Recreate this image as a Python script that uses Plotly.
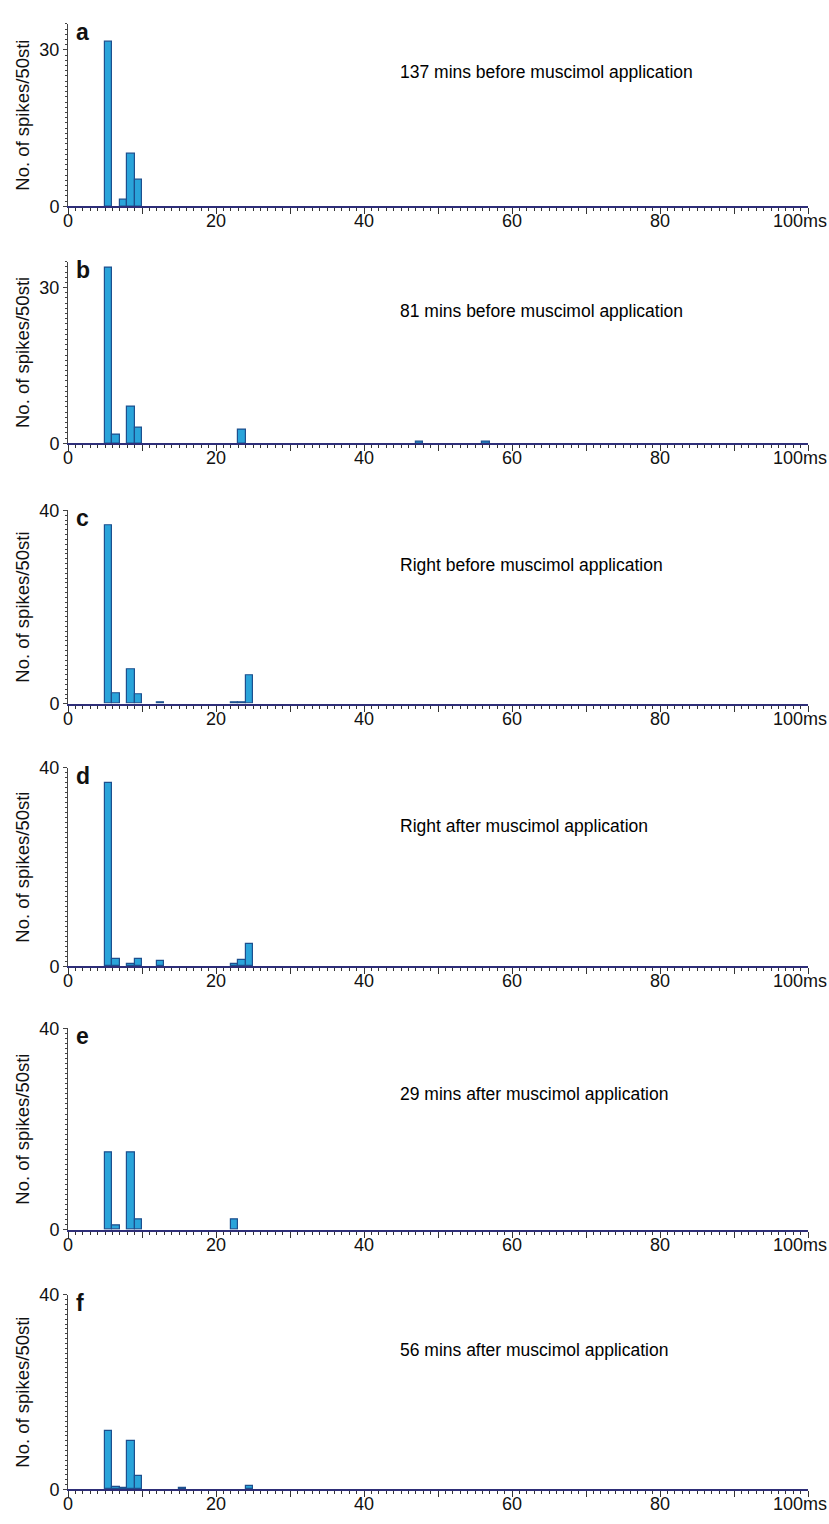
import plotly.graph_objects as go

# Peri-stimulus histograms, 1 ms bins (left edge of each bin in ms)
a_bins = [5, 7, 8, 9]
a_counts = [31.6, 1.2, 10, 5]

b_bins = [5, 6, 8, 9, 23, 47, 56]
b_counts = [33.8, 1.6, 7.1, 3.0, 2.6, 0.4, 0.4]

c_bins = [5, 6, 8, 9, 12, 22, 23, 24]
c_counts = [36.9, 2.2, 7.2, 1.9, 0.3, 0.3, 0.3, 5.9]

d_bins = [5, 6, 8, 9, 12, 22, 23, 24]
d_counts = [37.0, 1.4, 0.5, 1.4, 1.1, 0.4, 1.2, 4.6]

e_bins = [5, 6, 8, 9, 22]
e_counts = [15.4, 0.9, 15.4, 2.0, 2.0]

f_bins = [5, 6, 7, 8, 9, 15, 24]
f_counts = [12.0, 0.5, 0.3, 10.0, 2.7, 0.3, 0.8]

panel_letters = ["a", "b", "c", "d", "e", "f"]
panel_titles = [
    "137 mins before muscimol application",
    "81 mins before muscimol application",
    "Right before muscimol application",
    "Right after muscimol application",
    "29 mins after muscimol application",
    "56 mins after muscimol application",
]
y_max = [35, 35, 40, 40, 40, 40]
y_label_top = [30, 30, 40, 40, 40, 40]
x_label_vals = [0, 20, 40, 60, 80]
x_label_text = ["0", "20", "40", "60", "80"]

series = [
    (a_bins, a_counts), (b_bins, b_counts), (c_bins, c_counts),
    (d_bins, d_counts), (e_bins, e_counts), (f_bins, f_counts),
]

W, H = 829, 1524
# pixel layout of each panel: (top of y axis, baseline)
panel_px = [(14, 199), (255, 439), (507, 703), (768, 969), (1032, 1236), (1302, 1499)]
title_px = [63, 305, 562, 827, 1098, 1358]
x_left, x_right = 68, 808

BAR_FILL = "#2aa4da"
BAR_EDGE = "#1d4f8e"
AXIS_NAVY = "#2e2e78"
FONT = "Liberation Sans, Arial, sans-serif"

fig = go.Figure()
layout = dict(
    width=W, height=H,
    margin=dict(l=0, r=0, t=0, b=0),
    paper_bgcolor="white", plot_bgcolor="white",
    showlegend=False,
    font=dict(family=FONT, color="#111"),
    bargap=0,
)
annotations = []

for i, (bins, counts) in enumerate(series):
    n = "" if i == 0 else str(i + 1)
    top, base = panel_px[i]
    fig.add_trace(go.Bar(
        x=[b + 0.5 for b in bins], y=counts, width=1,
        marker=dict(color=BAR_FILL, line=dict(color=BAR_EDGE, width=1.2)),
        xaxis="x" + n, yaxis="y" + n, hoverinfo="skip",
    ))
    ytop = y_label_top[i]
    yvals = list(range(0, ytop + 1, 10))
    layout["xaxis" + n] = dict(
        domain=[x_left / W, x_right / W],
        range=[0, 100], anchor="y" + n,
        showline=True, linecolor=AXIS_NAVY, linewidth=2,
        showgrid=False, zeroline=False, showticklabels=False,
        tickmode="array", tickvals=list(range(0, 101, 10)),
        ticks="outside", ticklen=6, tickwidth=1.3, tickcolor="#333",
        minor=dict(tickmode="array", tickvals=list(range(0, 101)), ticks="outside",
                   ticklen=3, tickwidth=1, tickcolor="#333"),
    )
    layout["yaxis" + n] = dict(
        domain=[1 - base / H, 1 - top / H],
        range=[0, y_max[i]], anchor="x" + n,
        showline=True, linecolor="#444", linewidth=1,
        showgrid=False, zeroline=False,
        tickmode="array", tickvals=yvals,
        ticktext=["0"] + [""] * (len(yvals) - 2) + [str(ytop)],
        ticks="outside", ticklen=4, tickwidth=1, tickcolor="#444",
        tickfont=dict(size=18, color="#111"),
        minor=dict(tickmode="array", tickvals=list(range(0, y_max[i] + 1)),
                   ticks="outside", ticklen=2, tickwidth=1, tickcolor="#444"),
        title=dict(text="No. of spikes/50sti", font=dict(size=18.5, color="#111"),
                   standoff=4),
    )
    # x tick labels, placed on the data scale just under the axis
    for v, t in zip(x_label_vals, x_label_text):
        annotations.append(dict(
            x=v, y=1 - (base + 15) / H, xref="x" + n, yref="paper",
            xanchor="center", yanchor="middle", text=t, showarrow=False,
            font=dict(size=18, color="#111"),
        ))
    annotations.append(dict(
        x=1, y=1 - (base + 15) / H, xref="paper", yref="paper",
        xanchor="right", yanchor="middle", text="100ms", showarrow=False,
        font=dict(size=18, color="#111"),
    ))
    # panel letter
    annotations.append(dict(
        x=74 / W, y=1 - (top + 8) / H, xref="paper", yref="paper",
        xanchor="left", yanchor="middle", text="<b>%s</b>" % panel_letters[i],
        showarrow=False, font=dict(size=23, color="#111"),
    ))
    # condition label
    annotations.append(dict(
        x=398 / W, y=1 - title_px[i] / H, xref="paper", yref="paper",
        xanchor="left", yanchor="middle", text=panel_titles[i],
        showarrow=False, font=dict(size=17.5, color="#000"),
    ))

layout["annotations"] = annotations
fig.update_layout(**layout)
fig.write_html("out.html")
